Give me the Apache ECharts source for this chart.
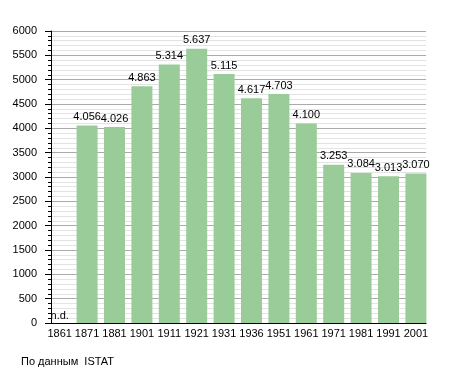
<!DOCTYPE html>
<html><head><meta charset="utf-8">
<script src="https://cdn.jsdelivr.net/npm/echarts@6/dist/echarts.min.js"></script>
<style>html,body{margin:0;padding:0;background:#fff}#c{width:455px;height:373px}</style>
</head><body><div id="c"></div>
<script>
var years = ['1861','1871','1881','1901','1911','1921','1931','1936','1951','1961','1971','1981','1991','2001'];
var population = [null,4056,4026,4863,5314,5637,5115,4617,4703,4100,3253,3084,3013,3070];
var yMin = 0, yMax = 6000, yStep = 500;
var source = 'По данным  ISTAT';

function fmt(v){ return String(v).replace(/\B(?=(\d{3})+(?!\d))/g,'.'); }

var font = 'Liberation Sans, Arial, sans-serif';
var chart = echarts.init(document.getElementById('c'), null, {renderer:'canvas'});
chart.setOption({
  animation:false,
  backgroundColor:'#fff',
  textStyle:{fontFamily:font},
  grid:[
    {left:51, right:29, top:31, bottom:50},
    {left:46, right:25.4, top:31, bottom:50}
  ],
  xAxis:[
    {gridIndex:0, type:'value', min:0, max:1, axisLine:{show:true,onZero:false,lineStyle:{color:'#000',width:1}},
     axisTick:{show:false}, axisLabel:{show:false}, splitLine:{show:false}},
    {gridIndex:1, type:'category', data:years, axisLine:{show:false}, axisTick:{show:false},
     axisLabel:{color:'#000', fontSize:11, margin:5, interval:0, fontFamily:font}}
  ],
  yAxis:[
    {gridIndex:0, type:'value', min:yMin, max:yMax, interval:yStep,
     axisLine:{show:true, lineStyle:{color:'#000',width:1}},
     axisTick:{show:true, length:6, lineStyle:{color:'#000'}},
     minorTick:{show:true, splitNumber:5, length:3, lineStyle:{color:'#000'}},
     axisLabel:{color:'#000', fontSize:11, margin:14, fontFamily:font, formatter:function(v){return String(v);}},
     splitLine:{show:true, lineStyle:{color:'#aaaaaa',width:1}},
     minorSplitLine:{show:true, lineStyle:{color:'#e3e3e3',width:1}}},
    {gridIndex:1, type:'value', min:yMin, max:yMax, show:false, splitLine:{show:false}}
  ],
  series:[{
    type:'bar', xAxisIndex:1, yAxisIndex:1, barWidth:21,
    itemStyle:{color:'#99cc99'},
    data: population.map(function(v){ return v==null ? {value:0, label:{formatter:'n.d.', distance:2}} : v; }),
    label:{show:true, position:'top', distance:3, color:'#000', fontSize:11, fontFamily:font,
      formatter:function(p){ return fmt(p.value); }}
  }],
  graphic:[{type:'text', left:21, top:356, style:{text:source, fill:'#000', font:'11px '+font}}]
});
</script></body></html>
